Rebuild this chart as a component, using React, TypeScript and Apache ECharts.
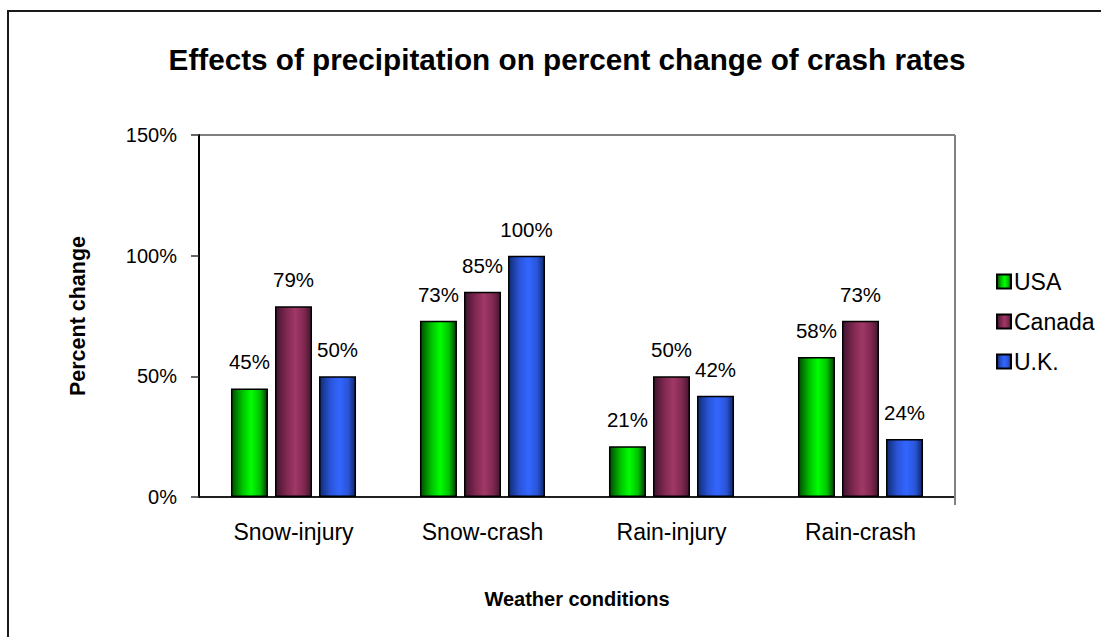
import React, { useEffect, useRef } from "react";
import * as echarts from "echarts";

const categories = ["Snow-injury", "Snow-crash", "Rain-injury", "Rain-crash"];
const usaValues = [45, 73, 21, 58];
const canadaValues = [79, 85, 50, 73];
const ukValues = [50, 100, 42, 24];
const seriesNames = ["USA", "Canada", "U.K."];
const yTicks = { min: 0, max: 150, interval: 50 };

const FONT = "'Liberation Sans', Arial, sans-serif";

function grad(dark1: string, mid: string, bright: string, dark2: string) {
  return new echarts.graphic.LinearGradient(0, 0, 1, 0, [
    { offset: 0, color: dark1 },
    { offset: 0.3, color: mid },
    { offset: 0.55, color: bright },
    { offset: 0.8, color: mid },
    { offset: 1, color: dark2 },
  ]);
}

export default function App() {
  const ref = useRef<HTMLDivElement>(null);
  useEffect(() => {
    if (!ref.current) return;
    const chart = echarts.init(ref.current, null, { renderer: "svg" });
    const colors = [
      grad("#004c00", "#00c000", "#00ff00", "#003c00"),
      grad("#401430", "#80284f", "#a03868", "#441630"),
      grad("#102c72", "#2a55d8", "#3366ff", "#0e266a"),
    ];
    const datas = [usaValues, canadaValues, ukValues];
    const label = {
      show: true,
      position: "top" as const,
      distance: 16,
      formatter: "{c}%",
      color: "#000",
      fontSize: 20.5,
      fontFamily: FONT,
    };
    chart.setOption({
      animation: false,
      backgroundColor: "#fff",
      title: {
        text: "Effects of precipitation on percent change of crash rates",
        left: 562,
        top: 39,
        textAlign: "center",
        textStyle: { fontSize: 29.7, fontWeight: "bold", color: "#000", fontFamily: FONT },
      },
      legend: {
        orient: "vertical",
        left: 991,
        top: 265,
        itemWidth: 14,
        itemHeight: 14,
        itemGap: 17,
        icon: "rect",
        textStyle: { fontSize: 23, color: "#000", fontFamily: FONT, padding: [0, 0, 0, -2] },
        data: seriesNames,
      },
      grid: {
        left: 199,
        top: 135,
        width: 756,
        height: 362,
        show: true,
        borderColor: "#000",
        borderWidth: 1,
        backgroundColor: "transparent",
      },
      xAxis: {
        type: "category",
        data: categories,
        name: "Weather conditions",
        nameLocation: "middle",
        nameGap: 92,
        nameTextStyle: { fontSize: 20, fontWeight: "bold", color: "#000", fontFamily: FONT },
        axisLine: { lineStyle: { color: "#000", width: 1.5 } },
        axisTick: { length: 8, lineStyle: { color: "#808080", width: 2 } },
        axisLabel: { fontSize: 23, color: "#000", margin: 23, fontFamily: FONT },
        splitLine: { show: false },
      },
      yAxis: {
        type: "value",
        min: yTicks.min,
        max: yTicks.max,
        interval: yTicks.interval,
        name: "Percent change",
        nameLocation: "middle",
        nameGap: 110,
        nameTextStyle: { fontSize: 21.5, fontWeight: "bold", color: "#000", fontFamily: FONT },
        axisLine: { show: true, lineStyle: { color: "#000", width: 2 } },
        axisTick: { show: true, length: 8, lineStyle: { color: "#333", width: 1.5 } },
        axisLabel: { fontSize: 20, color: "#000", margin: 22, formatter: "{value}%", fontFamily: FONT },
        splitLine: { show: false },
      },
      series: seriesNames.map((name, i) => ({
        name,
        type: "bar",
        data: datas[i],
        barWidth: 37,
        barGap: "19%",
        itemStyle: { color: colors[i], borderColor: "#000", borderWidth: 1.5 },
        label,
      })),
      graphic: [
        {
          type: "rect",
          shape: { x: 8, y: 11, width: 1200, height: 700 },
          style: { fill: "none", stroke: "#1a1a1a", lineWidth: 2 },
          silent: true,
          z: 100,
        },
        {
          type: "line",
          shape: { x1: 955, y1: 135, x2: 955, y2: 505 },
          style: { stroke: "#808080", lineWidth: 2 },
          silent: true,
          z: 100,
        },
      ],
    });
    return () => chart.dispose();
  }, []);
  return (
    <div
      ref={ref}
      style={{ position: "fixed", left: 0, top: 0, width: 1101, height: 637, background: "#fff" }}
    />
  );
}
